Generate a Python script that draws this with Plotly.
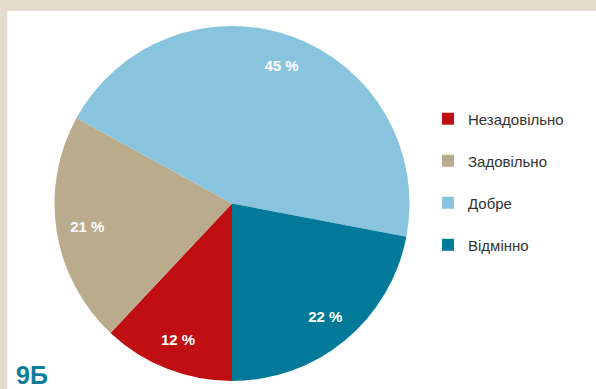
import plotly.graph_objects as go

# Grade distribution for class 9Б
categories = ["Незадовільно", "Задовільно", "Добре", "Відмінно"]
shares = [12, 21, 45, 22]
colors = ["#C00F12", "#BBAB8D", "#89C4DE", "#007A98"]
class_name = "9Б"

W, H = 596, 389
FONT = "Liberation Sans, Arial, sans-serif"

# pie square: diameter 355 px centred at (232, 203.5)
cx, cy, r = 232.0, 203.5, 177.5
dom_x = [(cx - r) / W, (cx + r) / W]
dom_y = [1 - (cy + r) / H, 1 - (cy - r) / H]

# an extra blank line in each legend entry gives the wider row spacing
legend_labels = [c + "<br>\u00a0" for c in categories]

fig = go.Figure()

# the coloured slices
fig.add_trace(go.Pie(
    labels=legend_labels,
    values=shares,
    sort=False,
    direction="clockwise",
    rotation=180,
    marker=dict(colors=colors, line=dict(width=0)),
    textinfo="none",
    hoverinfo="skip",
    domain=dict(x=dom_x, y=dom_y),
))

# transparent ring carrying the percentage labels near the rim
fig.add_trace(go.Pie(
    labels=categories,
    values=shares,
    sort=False,
    direction="clockwise",
    rotation=180,
    hole=0.65,
    marker=dict(colors=["rgba(0,0,0,0)"] * len(shares), line=dict(width=0)),
    texttemplate="%{value} %",
    textposition="inside",
    insidetextorientation="horizontal",
    textfont=dict(family=FONT, size=15, color="white", weight="bold"),
    showlegend=False,
    hoverinfo="skip",
    domain=dict(x=dom_x, y=dom_y),
))

shapes = [
    dict(type="rect", xref="paper", yref="paper", x0=0, x1=1,
         y0=1 - 10.7 / H, y1=1, fillcolor="#E5DBCF", line=dict(width=0), layer="below"),
    dict(type="rect", xref="paper", yref="paper", x0=0, x1=7.3 / W,
         y0=0, y1=1, fillcolor="#E5DBCF", line=dict(width=0), layer="below"),
]

fig.update_layout(
    width=W, height=H,
    margin=dict(l=0, r=0, t=0, b=0),
    paper_bgcolor="white",
    plot_bgcolor="white",
    shapes=shapes,
    legend=dict(
        x=428 / W, y=1 - 102.5 / H, xanchor="left", yanchor="top",
        valign="top",
        font=dict(family=FONT, size=15, color="#333333"),
        bgcolor="rgba(0,0,0,0)",
        traceorder="normal",
    ),
    annotations=[dict(
        text="<b>" + class_name + "</b>", xref="paper", yref="paper",
        x=14 / W, y=0, xanchor="left", yanchor="bottom", showarrow=False,
        yshift=-1.5,
        font=dict(family=FONT, size=25, color="#0E7B99"),
    )],
)

fig.write_html("out.html")
